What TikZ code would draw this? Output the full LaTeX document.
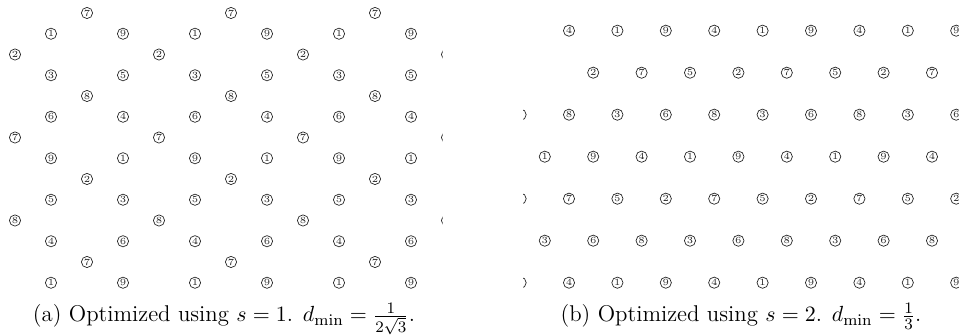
\documentclass[tikz,border=0pt]{standalone}
\begin{document}
\begin{tikzpicture}[x=0.5pt,y=-0.5pt,
  dig/.style={draw=black!85,circle,inner sep=0pt,minimum size=5.6pt,line width=0.35pt,
    text=black!85,font=\fontsize{4.7}{5}\selectfont},
  captext/.style={anchor=base,font=\fontsize{11.4}{13}\selectfont}]
\useasboundingbox (0,0) rectangle (959,335);
\newcommand\digrow[5]{%
  \foreach \d [count=\m from 0] in {#5} {\node[dig] (#1-\m) at ({#2+#3*\m},{#4}) {\d};}}
% ---------- panel (a)
\begin{scope}
\clip (8,0) rectangle (442.5,300);
\digrow{a0}{87}{144}{13}{7,7,7}
\digrow{a1}{51}{72}{33.75}{1,9,1,9,1,9}
\digrow{a2}{15}{144}{54.5}{2,2,2,2}
\digrow{a3}{51}{72}{75.25}{3,5,3,5,3,5}
\digrow{a4}{87}{144}{96}{8,8,8}
\digrow{a5}{51}{72}{116.75}{6,4,6,4,6,4}
\digrow{a6}{15}{144}{137.5}{7,7,7,7}
\digrow{a7}{51}{72}{158.25}{9,1,9,1,9,1}
\digrow{a8}{87}{144}{179}{2,2,2}
\digrow{a9}{51}{72}{199.75}{5,3,5,3,5,3}
\digrow{a10}{15}{144}{220.5}{8,8,8,8}
\digrow{a11}{51}{72}{241.25}{4,6,4,6,4,6}
\digrow{a12}{87}{144}{262}{7,7,7}
\digrow{a13}{51}{72}{282.75}{1,9,1,9,1,9}
\end{scope}
% ---------- panel (b)
\begin{scope}
\clip (523,0) rectangle (959,300);
\digrow{b1}{569}{48.4}{30.7}{4,1,9,4,1,9,4,1,9}
\digrow{b2}{593.2}{48.4}{72.7}{2,7,5,2,7,5,2,7}
\digrow{b3}{520.6}{48.4}{114.7}{6,8,3,6,8,3,6,8,3,6}
\digrow{b4}{544.8}{48.4}{156.7}{1,9,4,1,9,4,1,9,4}
\digrow{b5}{520.6}{48.4}{198.7}{2,7,5,2,7,5,2,7,5,2}
\digrow{b6}{544.8}{48.4}{240.7}{3,6,8,3,6,8,3,6,8}
\digrow{b7}{520.6}{48.4}{282.7}{9,4,1,9,4,1,9,4,1,9}
\end{scope}
% ---------- captions
\node[captext] (capa) at (224,322) {(a) Optimized using $s=1$. $d_{\min}=\frac{1}{2\sqrt{3}}$.};
\node[captext] (capb) at (741,322) {(b) Optimized using $s=2$. $d_{\min}=\frac{1}{3}$.};
\end{tikzpicture}
\end{document}
